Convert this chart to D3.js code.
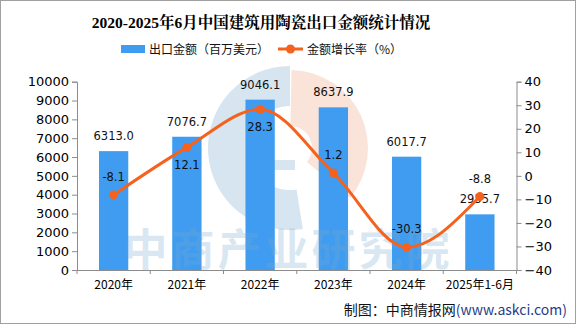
<!DOCTYPE html>
<html><head><meta charset="utf-8">
<script src="https://cdn.jsdelivr.net/npm/d3@7"></script>
<style>body{margin:0;background:#fff}svg{display:block}</style>
</head><body>
<script>
const categories = ["2020年","2021年","2022年","2023年","2024年","2025年1-6月"];
const exportValues = [6313.0, 7076.7, 9046.1, 8637.9, 6017.7, 2955.7];
const growthRates = [-8.1, 12.1, 28.3, 1.2, -30.3, -8.8];
const growthLabelSide = ["top","bottom","bottom","top","top","top"];
const leftTicks = [0,1000,2000,3000,4000,5000,6000,7000,8000,9000,10000];
const rightTicks = [-40,-30,-20,-10,0,10,20,30,40];

const W = 576, H = 324;
const svg = d3.select("body").append("svg").attr("width", W).attr("height", H);
const cjk = "'Noto Sans CJK SC','Noto Sans',sans-serif";
const num = "'DejaVu Sans','Liberation Sans',sans-serif";

svg.append("rect").attr("x",0.5).attr("y",0.5).attr("width",W-1).attr("height",H-1)
  .attr("fill","#fff").attr("stroke","#a0a0a0");

const x0 = 77, x1 = 516.5, yTop = 81.7, yBot = 270;
const x = d3.scaleBand().domain(categories).range([x0, x1]).paddingInner(0.6).paddingOuter(0.3);
const yL = d3.scaleLinear().domain([0, 10000]).range([yBot, yTop]);
const yR = d3.scaleLinear().domain([-40, 40]).range([yBot, yTop]);

// watermark logo (behind)
const wm = svg.append("g");
const cx = 290, cy = 148;
wm.append("path").attr("transform",`translate(${cx},${cy})`)
  .attr("d", d3.arc().innerRadius(42).outerRadius(82).startAngle(Math.PI*0.95).endAngle(Math.PI*2)())
  .attr("fill","#d6e5ef");
wm.append("rect").attr("x",cx-33).attr("y",cy+12).attr("width",38).attr("height",10).attr("fill","#d6e5ef");
wm.append("path").attr("transform",`translate(${cx},${cy})`)
  .attr("d", d3.arc().innerRadius(22).outerRadius(78).startAngle(0.02).endAngle(Math.PI*0.72)())
  .attr("fill","#fae3d8");

// bars
svg.append("g").selectAll("rect").data(exportValues).join("rect")
  .attr("x",(d,i)=>x(categories[i])).attr("width",x.bandwidth())
  .attr("y",d=>yL(d)).attr("height",d=>yBot-yL(d)).attr("fill","#3f9cf0");

// watermark text
svg.append("text").attr("x",288).attr("y",266).attr("text-anchor","middle")
  .attr("font-family",cjk).attr("font-weight","bold").attr("font-size",44)
  .attr("letter-spacing",3).attr("fill","rgba(120,170,210,0.28)").text("中商产业研究院");

// axes
const axisColor = "#8c8c8c";
const gL = svg.append("g").attr("transform",`translate(${x0},0)`)
  .call(d3.axisLeft(yL).tickValues(leftTicks).tickSize(5).tickPadding(3).tickFormat(d3.format("d")));
const gR = svg.append("g").attr("transform",`translate(${x1},0)`)
  .call(d3.axisRight(yR).tickValues(rightTicks).tickSize(5).tickPadding(3).tickFormat(d3.format("d")));
[gL,gR].forEach(g=>{
  g.select(".domain").attr("stroke",axisColor);
  g.selectAll(".tick line").attr("stroke",axisColor);
  g.selectAll(".tick text").attr("font-family",num).attr("font-size",13).attr("fill","#000");
});
gR.selectAll(".tick text").text(d=>d<0?"\u2212"+Math.abs(d):d);
const gX = svg.append("g").attr("transform",`translate(0,${yBot})`)
  .call(d3.axisBottom(x).tickSize(0).tickPadding(10));
gX.select(".domain").attr("stroke",axisColor);
gX.selectAll(".tick text").attr("font-family",cjk).attr("font-size",12).attr("fill","#000");
const step = (x1-x0)/categories.length;
gX.selectAll(".sep").data(d3.range(categories.length+1)).join("line")
  .attr("x1",i=>x0+i*step).attr("x2",i=>x0+i*step).attr("y1",0).attr("y2",4).attr("stroke",axisColor);

// bar labels
svg.append("g").selectAll("text").data(exportValues).join("text")
  .attr("x",(d,i)=>x(categories[i])+x.bandwidth()/2).attr("y",d=>yL(d)-11)
  .attr("text-anchor","middle").attr("font-family",num).attr("font-size",11.5).attr("fill","#111")
  .text(d=>d.toFixed(1));

// line
const lineColor = "#f5621e";
const cxp = (d,i)=>x(categories[i])+x.bandwidth()/2;
svg.append("path").datum(growthRates)
  .attr("d", d3.line().x(cxp).y(d=>yR(d)).curve(d3.curveMonotoneX))
  .attr("fill","none").attr("stroke",lineColor).attr("stroke-width",3);
svg.append("g").selectAll("circle").data(growthRates).join("circle")
  .attr("cx",cxp).attr("cy",d=>yR(d)).attr("r",4.5).attr("fill",lineColor);
svg.append("g").selectAll("text").data(growthRates).join("text")
  .attr("x",cxp).attr("y",(d,i)=>growthLabelSide[i]==="top"? yR(d)-14 : yR(d)+22)
  .attr("text-anchor","middle").attr("font-family",num).attr("font-size",11.5).attr("fill","#111")
  .text(d=>d.toFixed(1));

// title
svg.append("text").attr("x",261).attr("y",28).attr("text-anchor","middle")
  .attr("font-family","'Liberation Serif','Noto Serif CJK SC','Noto Sans CJK SC',serif")
  .attr("font-weight","bold").attr("font-size",15.5).attr("fill","#000")
  .text("2020-2025年6月中国建筑用陶瓷出口金额统计情况");

// legend
const lg = svg.append("g");
lg.append("rect").attr("x",121).attr("y",45).attr("width",24).attr("height",8).attr("fill","#3f9cf0");
lg.append("text").attr("x",149).attr("y",53.5).attr("font-family",cjk).attr("font-size",12).attr("fill","#111").text("出口金额（百万美元）");
lg.append("line").attr("x1",278).attr("x2",303).attr("y1",49).attr("y2",49).attr("stroke",lineColor).attr("stroke-width",3);
lg.append("circle").attr("cx",290.5).attr("cy",49).attr("r",4.5).attr("fill",lineColor);
lg.append("text").attr("x",307).attr("y",53.5).attr("font-family",cjk).attr("font-size",12).attr("fill","#111").text("金额增长率（%）");

// footer
const ft = svg.append("text").attr("x",567).attr("y",315).attr("text-anchor","end")
  .attr("font-family",cjk).attr("font-size",14);
ft.append("tspan").attr("fill","#111").text("制图：中商情报网");
ft.append("tspan").attr("fill","#1f3c8c").text("(www.askci.com)");
</script>
</body></html>
